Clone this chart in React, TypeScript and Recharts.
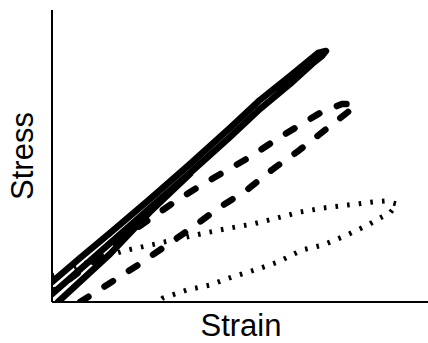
import React from 'react';
import { LineChart, Line, XAxis, YAxis, Label } from 'recharts';

// Strain / stress readings (arbitrary units, 0-100 on both axes)
// solid curve: loading/unloading loop, then (after the break) the first loading ramp
const solidLoop = [
  { x: 0.0, y: 2.74 },
  { x: 12.77, y: 17.12 },
  { x: 26.06, y: 32.19 },
  { x: 36.7, y: 44.18 },
  { x: 47.34, y: 56.51 },
  { x: 55.32, y: 66.1 },
  { x: 63.3, y: 74.66 },
  { x: 69.15, y: 81.51 },
  { x: 71.81, y: 84.25 },
  { x: 72.87, y: 85.96 },
  { x: 70.74, y: 85.27 },
  { x: 63.3, y: 77.4 },
  { x: 55.32, y: 69.18 },
  { x: 47.34, y: 59.59 },
  { x: 36.7, y: 47.26 },
  { x: 26.06, y: 35.27 },
  { x: 15.43, y: 23.63 },
  { x: 7.45, y: 15.07 },
  { x: 0.0, y: 6.85 },
  { x: 1.6, y: null },
  { x: 1.6, y: 0.0 },
  { x: 15.43, y: 16.44 },
  { x: 26.06, y: 30.82 },
  { x: 36.7, y: 43.84 },
];

const dashedLoop = [
  { x: 7.45, y: 0.0 },
  { x: 15.43, y: 6.51 },
  { x: 22.87, y: 12.67 },
  { x: 30.59, y: 19.52 },
  { x: 37.5, y: 25.68 },
  { x: 44.68, y: 32.53 },
  { x: 51.86, y: 38.36 },
  { x: 58.78, y: 45.55 },
  { x: 65.16, y: 51.37 },
  { x: 72.61, y: 58.9 },
  { x: 78.72, y: 65.07 },
  { x: 80.59, y: 67.81 },
  { x: 77.13, y: 67.81 },
  { x: 71.28, y: 64.73 },
  { x: 65.96, y: 60.62 },
  { x: 59.84, y: 55.82 },
  { x: 52.66, y: 49.66 },
  { x: 45.21, y: 44.18 },
  { x: 38.03, y: 38.7 },
  { x: 31.38, y: 33.22 },
  { x: 26.06, y: 28.42 },
  { x: 19.95, y: 22.95 },
  { x: 10.11, y: 13.01 },
  { x: 0.0, y: 3.42 },
];

const dottedLoop = [
  { x: 0.0, y: 8.9 },
  { x: 7.45, y: 12.67 },
  { x: 18.88, y: 17.47 },
  { x: 28.72, y: 20.21 },
  { x: 34.57, y: 21.92 },
  { x: 40.69, y: 23.63 },
  { x: 47.34, y: 25.34 },
  { x: 53.46, y: 26.71 },
  { x: 59.84, y: 28.77 },
  { x: 65.96, y: 30.82 },
  { x: 72.07, y: 32.19 },
  { x: 78.72, y: 33.22 },
  { x: 85.37, y: 34.25 },
  { x: 88.56, y: 34.59 },
  { x: 91.76, y: 33.56 },
  { x: 89.89, y: 30.48 },
  { x: 87.23, y: 28.77 },
  { x: 84.04, y: 26.37 },
  { x: 78.46, y: 22.95 },
  { x: 72.07, y: 19.52 },
  { x: 66.49, y: 17.81 },
  { x: 60.11, y: 13.7 },
  { x: 53.99, y: 10.96 },
  { x: 47.87, y: 8.56 },
  { x: 42.02, y: 5.82 },
  { x: 35.9, y: 4.11 },
  { x: 29.52, y: 1.37 },
  { x: 28.19, y: 0.0 },
];

const xLabel = 'Strain';
const yLabel = 'Stress';

const FONT = '"Liberation Sans", Arial, Helvetica, sans-serif';

const XLabelContent = (props: any) => {
  const vb = props.viewBox || {};
  const cx = vb.x + vb.width / 2;
  return (
    <text x={cx + 1} y={vb.y + 34} textAnchor="middle" fontFamily={FONT} fontSize={31} fill="#000">
      {xLabel}
    </text>
  );
};

const YLabelContent = (props: any) => {
  const vb = props.viewBox || {};
  const bx = vb.x + 33;
  const cy = vb.y + vb.height / 2;
  return (
    <text
      x={bx}
      y={cy}
      textAnchor="middle"
      fontFamily={FONT}
      fontSize={31}
      fill="#000"
      transform={`rotate(-90, ${bx}, ${cy})`}
    >
      {yLabel}
    </text>
  );
};

export default function App() {
  return (
    <div style={{ position: 'absolute', left: 0, top: 0, background: '#fff' }}>
      <LineChart width={428} height={343} margin={{ top: 10, right: 0, bottom: 0, left: 0 }}>
        <XAxis
          dataKey="x"
          type="number"
          domain={[0, 100]}
          allowDataOverflow
          tick={false}
          tickLine={false}
          axisLine={{ stroke: '#000', strokeWidth: 2 }}
          height={41}
        >
          <Label content={XLabelContent} />
        </XAxis>
        <YAxis
          type="number"
          domain={[0, 100]}
          allowDataOverflow
          tick={false}
          tickLine={false}
          axisLine={{ stroke: '#000', strokeWidth: 2 }}
          width={52}
        >
          <Label content={YLabelContent} />
        </YAxis>
        <Line
          data={dottedLoop}
          dataKey="y"
          type="linear"
          stroke="#000"
          strokeWidth={5}
          strokeDasharray="2.6 9.1"
          dot={false}
          activeDot={false}
          isAnimationActive={false}
        />
        <Line
          data={dashedLoop}
          dataKey="y"
          type="linear"
          stroke="#000"
          strokeWidth={6.5}
          strokeDasharray="10 19"
          strokeLinecap="round"
          dot={false}
          activeDot={false}
          isAnimationActive={false}
        />
        <Line
          data={solidLoop}
          dataKey="y"
          type="linear"
          stroke="#000"
          strokeWidth={6.5}
          strokeLinecap="round"
          strokeLinejoin="round"
          connectNulls={false}
          dot={false}
          activeDot={false}
          isAnimationActive={false}
        />
      </LineChart>
    </div>
  );
}
